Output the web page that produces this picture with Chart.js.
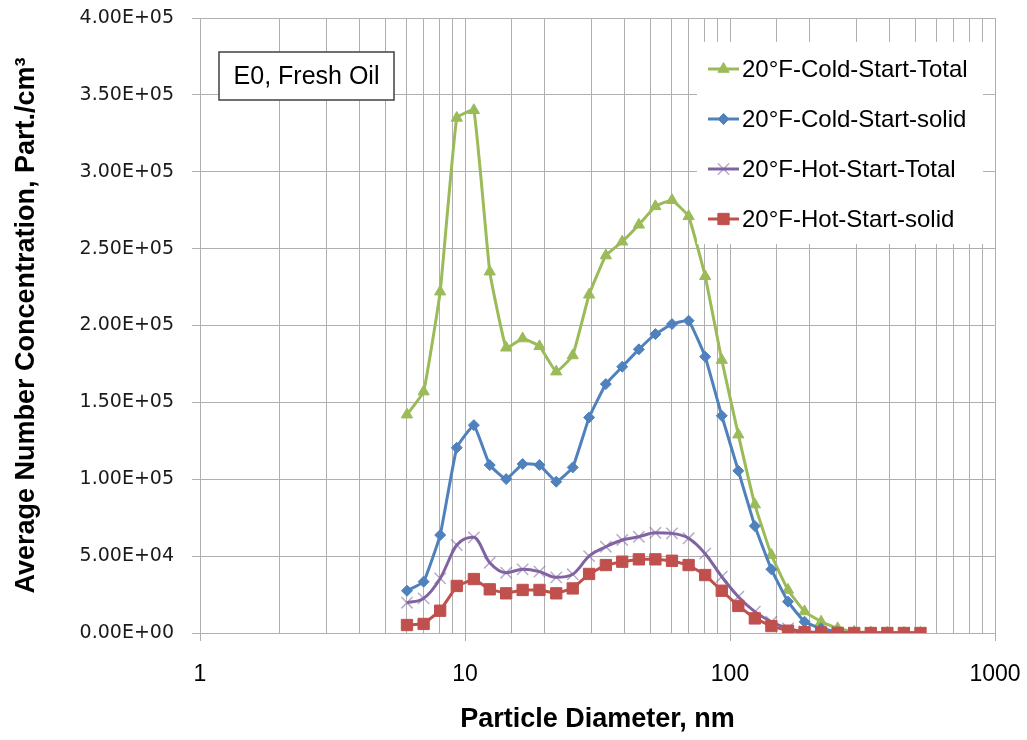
<!DOCTYPE html>
<html>
<head>
    <title>Particle Size Distribution</title>
    <script src="https://cdn.jsdelivr.net/npm/chart.js"></script>
    <style>
        body {
            margin: 0;
            background-color: #fff;
        }
        #plot {
            display: block;
        }
    </style>
</head>
<body>
    <canvas id="plot" width="1027" height="740"></canvas>

    <script>
        // particle diameter channels, nm
        const diameters = [6.04, 6.98, 8.06, 9.31, 10.8, 12.4, 14.3, 16.5, 19.1, 22.1, 25.5, 29.4, 34.0, 39.2, 45.3, 52.3,
            60.4, 69.8, 80.6, 93.1, 107.5, 124.1, 143.3, 165.5, 191.1, 220.7, 254.8, 294.3, 339.8, 392.4, 453.2, 523.3];

        const coldTotal = [142000, 157000, 222000, 335000, 340000, 235000, 185500, 191500, 186500, 170000, 180500, 220000,
            245500, 254500, 265500, 277500, 281500, 271000, 232000, 177500, 129000, 83500, 50700, 28000, 14000, 7300,
            3000, 800, 300, 100, 0, 0];
        const coldSolid = [27500, 33400, 63700, 120500, 135200, 109200, 100100, 109900, 109200, 98400, 107700, 140200,
            161900, 173200, 184500, 194400, 200900, 203100, 179700, 141300, 105500, 69600, 41400, 20400, 7300, 3000,
            800, 200, 100, 0, 0, 0];
        const hotTotal = [19700, 22500, 35500, 57200, 62200, 45700, 39200, 41400, 39900, 36200, 38200, 50000,
            56100, 60500, 62600, 65200, 64800, 61600, 51600, 36600, 23600, 13900, 7300, 3000, 1000, 400,
            200, 100, 0, 0, 0, 0];
        const hotSolid = [5200, 5900, 14500, 30600, 35100, 28400, 25800, 28000, 28000, 25800, 29000, 38400,
            44200, 46400, 47900, 47900, 47000, 44200, 37700, 27500, 17600, 9500, 4500, 1500, 500, 300,
            100, 0, 0, 0, 0, 0];

        const seriesNames = ['20°F-Cold-Start-Total', '20°F-Cold-Start-solid', '20°F-Hot-Start-Total', '20°F-Hot-Start-solid'];
        const noteText = 'E0, Fresh Oil';

        const gridGray = '#b0b0b0';

        function toPoints(values) {
            return values.map((v, i) => ({ x: diameters[i], y: v }));
        }

        // Excel style 4.00E+05 labels
        function sciLabel(v) {
            if (v === 0) return '0.00E+00';
            const e = Math.floor(Math.log10(Math.abs(v)) + 1e-9);
            const m = v / Math.pow(10, e);
            return m.toFixed(2) + 'E' + (e < 0 ? '-' : '+') + String(Math.abs(e)).padStart(2, '0');
        }

        function isDecade(v) {
            const l = Math.log10(v);
            return Math.abs(l - Math.round(l)) < 1e-9;
        }

        // legend box drawn inside the plot, like the Excel one
        const insideLegend = {
            id: 'insideLegend',
            afterDraw(chart) {
                const ctx = chart.ctx;
                const area = chart.chartArea;
                const bx = area.right - 298;
                const by = area.top + 24;
                ctx.save();
                ctx.fillStyle = '#fff';
                ctx.fillRect(bx, by, 286, 202);

                seriesNames.forEach((name, i) => {
                    const ds = chart.data.datasets[i];
                    const cy = by + 27 + i * 50;
                    ctx.strokeStyle = ds.borderColor;
                    ctx.lineWidth = 3;
                    ctx.beginPath();
                    ctx.moveTo(bx + 11, cy);
                    ctx.lineTo(bx + 42, cy);
                    ctx.stroke();
                    ctx.fillStyle = ds.pointBackgroundColor;
                    ctx.strokeStyle = ds.pointBorderColor;
                    ctx.lineWidth = ds.pointBorderWidth;
                    Chart.helpers.drawPoint(ctx, {
                        pointStyle: ds.pointStyle,
                        radius: ds.pointRadius,
                        rotation: 0,
                        borderWidth: ds.pointBorderWidth
                    }, bx + 26.5, cy);
                    ctx.fillStyle = '#000';
                    ctx.font = '24px "Liberation Sans", Arial, sans-serif';
                    ctx.textAlign = 'left';
                    ctx.textBaseline = 'middle';
                    ctx.fillText(name, bx + 45, cy + 1);
                });

                // text box "E0, Fresh Oil"
                const nx = area.left + 19;
                const ny = area.top + 34;
                ctx.fillStyle = '#fff';
                ctx.fillRect(nx, ny, 175, 48);
                ctx.strokeStyle = '#404040';
                ctx.lineWidth = 1.5;
                ctx.strokeRect(nx, ny, 175, 48);
                ctx.fillStyle = '#000';
                ctx.font = '25px "Liberation Sans", Arial, sans-serif';
                ctx.textAlign = 'center';
                ctx.textBaseline = 'middle';
                ctx.fillText(noteText, nx + 87.5, ny + 25);
                ctx.restore();
            }
        };

        const ctx = document.getElementById('plot').getContext('2d');
        const chart = new Chart(ctx, {
            type: 'line',
            data: {
                datasets: [{
                    label: seriesNames[0],
                    data: toPoints(coldTotal),
                    borderColor: '#9BBB59',
                    borderWidth: 3,
                    tension: 0.1,
                    pointStyle: 'triangle',
                    pointRadius: 6.5,
                    pointBackgroundColor: '#9BBB59',
                    pointBorderColor: '#9BBB59',
                    pointBorderWidth: 1,
                    order: 3
                }, {
                    label: seriesNames[1],
                    data: toPoints(coldSolid),
                    borderColor: '#4F81BD',
                    borderWidth: 3,
                    tension: 0.1,
                    pointStyle: 'rectRot',
                    pointRadius: 5.5,
                    pointBackgroundColor: '#4F81BD',
                    pointBorderColor: '#4F81BD',
                    pointBorderWidth: 1,
                    order: 2
                }, {
                    label: seriesNames[2],
                    data: toPoints(hotTotal),
                    borderColor: '#8064A2',
                    borderWidth: 3,
                    cubicInterpolationMode: 'monotone',
                    pointStyle: 'crossRot',
                    pointRadius: 8,
                    pointBackgroundColor: 'rgba(128, 100, 162, 0.55)',
                    pointBorderColor: 'rgba(128, 100, 162, 0.55)',
                    pointBorderWidth: 1.5,
                    order: 1
                }, {
                    label: seriesNames[3],
                    data: toPoints(hotSolid),
                    borderColor: '#C0504D',
                    borderWidth: 3,
                    tension: 0,
                    pointStyle: 'rect',
                    pointRadius: 8,
                    pointBackgroundColor: '#C0504D',
                    pointBorderColor: '#C0504D',
                    pointBorderWidth: 1,
                    order: 0
                }]
            },
            options: {
                responsive: false,
                animation: false,
                devicePixelRatio: 1,
                layout: {
                    padding: { left: 0, top: 18, right: 32, bottom: 0 }
                },
                scales: {
                    x: {
                        type: 'logarithmic',
                        min: 1,
                        max: 1000,
                        afterFit(scale) {
                            scale.height = 107;
                            scale.paddingLeft = 0;
                            scale.paddingRight = 0;
                        },
                        ticks: {
                            autoSkip: false,
                            maxRotation: 0,
                            padding: 20,
                            color: '#000',
                            font: { family: '"Liberation Sans", Arial, sans-serif', size: 23 },
                            callback: (v) => isDecade(v) ? String(v) : ''
                        },
                        grid: {
                            color: gridGray,
                            tickLength: 8,
                            tickColor: (c) => (c.tick && isDecade(c.tick.value)) ? gridGray : 'rgba(0,0,0,0)'
                        },
                        border: { color: gridGray },
                        title: {
                            display: true,
                            text: 'Particle Diameter, nm',
                            color: '#000',
                            font: { family: '"Liberation Sans", Arial, sans-serif', size: 27, weight: 'bold' },
                            padding: { top: 0, bottom: 4 }
                        }
                    },
                    y: {
                        min: 0,
                        max: 400000,
                        afterFit(scale) {
                            scale.width = 200;
                            scale.paddingTop = 0;
                            scale.paddingBottom = 0;
                        },
                        ticks: {
                            stepSize: 50000,
                            padding: 18,
                            color: '#1a1a1a',
                            font: { family: '"DejaVu Sans", sans-serif', size: 19 },
                            callback: (v) => sciLabel(v)
                        },
                        grid: {
                            color: gridGray,
                            tickLength: 8,
                            tickColor: gridGray
                        },
                        border: { color: gridGray },
                        title: {
                            display: true,
                            text: 'Average Number Concentration, Part./cm³',
                            color: '#000',
                            font: { family: '"Liberation Sans", Arial, sans-serif', size: 27, weight: 'bold' },
                            padding: { top: 10, bottom: 0 }
                        }
                    }
                },
                plugins: {
                    legend: { display: false },
                    tooltip: { enabled: false }
                }
            },
            plugins: [insideLegend]
        });
    </script>
</body>
</html>
